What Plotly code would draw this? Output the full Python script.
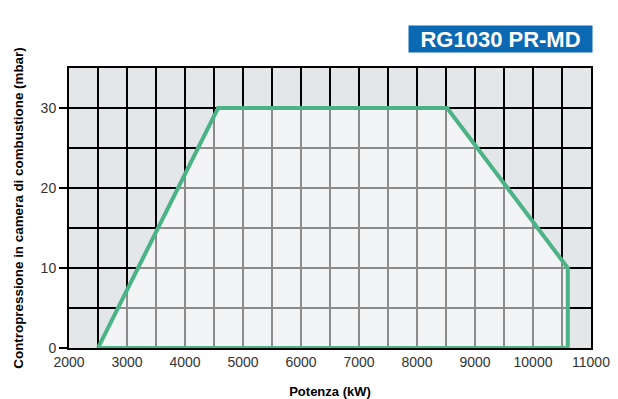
import plotly.graph_objects as go

# Working field polygon (power kW, back pressure mbar)
power_kw = [2500, 4570, 8520, 10600, 10600, 2500]
pressure_mbar = [0, 30, 30, 10, 0, 0]

x_ticks = [2000, 3000, 4000, 5000, 6000, 7000, 8000, 9000, 10000, 11000]
x_tick_labels = ["2000", "3000", "4000", "5000", "6000", "7000", "8000", "9000", "10000", "11000"]
y_ticks = [0, 10, 20, 30]

title_text = "RG1030 PR-MD"
x_title = "Potenza (kW)"
y_title = "Contropressione in camera di combustione (mbar)"

fig = go.Figure()
fig.add_trace(go.Scatter(
    x=power_kw, y=pressure_mbar, mode="lines", fill="toself",
    fillcolor="rgba(255,255,255,0.55)",
    line=dict(color="#4cb386", width=4), hoverinfo="skip", showlegend=False,
))

font_family = "Liberation Sans, Arial, sans-serif"

# page body has an 8px margin, so the figure is sized/offset to compensate
fig.update_layout(
    width=610, height=391,
    margin=dict(l=61, r=27, t=60, b=51),
    paper_bgcolor="white", plot_bgcolor="#e4e7ea",
    font=dict(family=font_family, size=13, color="#333333"),
    xaxis=dict(
        range=[2000, 11000], tickvals=x_ticks, ticktext=x_tick_labels, showgrid=True,
        gridcolor="black", gridwidth=2, automargin=False,
        minor=dict(dtick=500, showgrid=True, gridcolor="black", gridwidth=2, ticks=""),
        showline=True, linecolor="black", linewidth=2, mirror=True,
        ticks="", zeroline=False, tickfont=dict(size=14, color="#333333"),
        title=dict(text="<b>" + x_title + "</b>", font=dict(size=13, color="black"), standoff=18),
    ),
    yaxis=dict(
        range=[0, 35], tickvals=y_ticks, showgrid=True,
        gridcolor="black", gridwidth=2, automargin=False,
        minor=dict(dtick=5, showgrid=True, gridcolor="black", gridwidth=2, ticks=""),
        showline=True, linecolor="black", linewidth=2, mirror=True,
        ticks="outside", ticklen=8, tickwidth=2, tickcolor="black",
        zeroline=False, tickfont=dict(size=14, color="#333333"),
        title=dict(text="<b>" + y_title + "</b>", font=dict(size=13.4, color="black"), standoff=14),
    ),
    annotations=[dict(
        text="<b>" + title_text + "</b>", xref="paper", yref="paper",
        x=1.0, y=1.0, xanchor="right", yanchor="bottom", yshift=15, xshift=2,
        showarrow=False, bgcolor="#0b68b3", font=dict(color="white", size=22, family=font_family),
        borderpad=1, width=181, height=24,
    )],
)

fig.write_html("out.html")
